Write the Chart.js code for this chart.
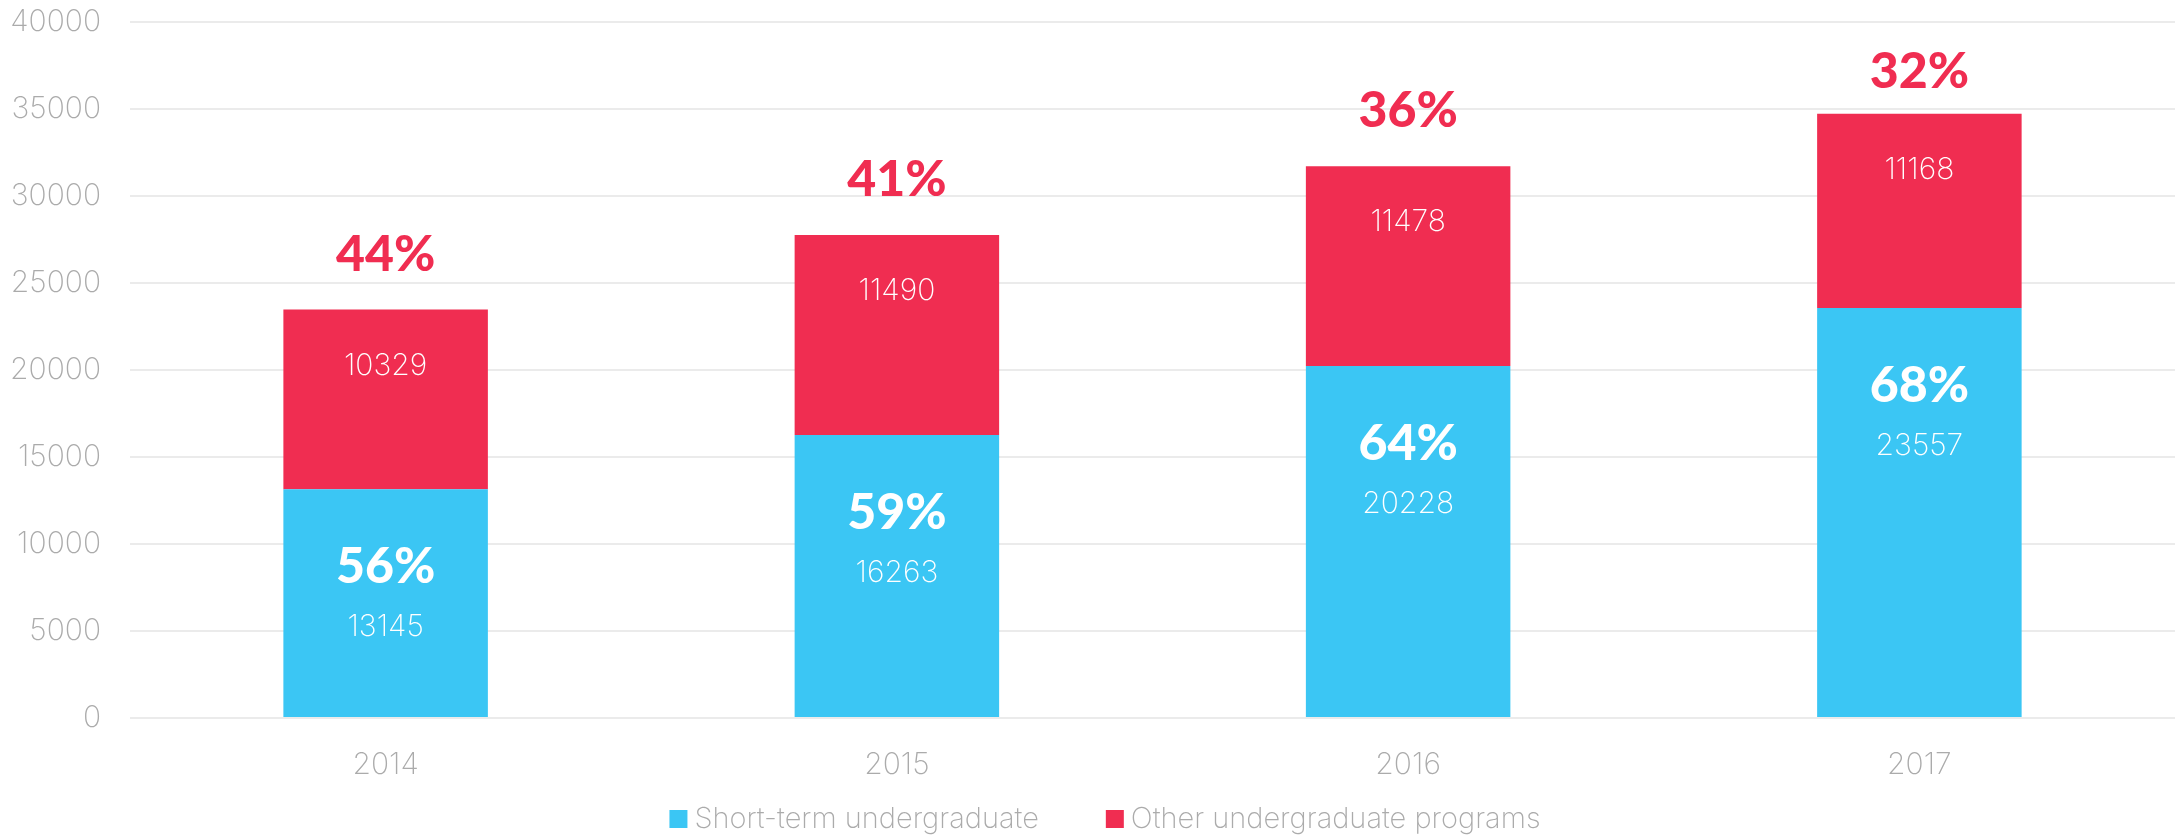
<!DOCTYPE html>
<html>
<head>
<meta charset="utf-8">
<script src="https://cdn.jsdelivr.net/npm/chart.js@4/dist/chart.umd.min.js"></script>
<style>
  html, body { margin: 0; padding: 0; background: #ffffff; }
  #wrap { width: 2176px; height: 835px; position: relative; }
</style>
</head>
<body>
<div id="wrap"><canvas id="c"></canvas></div>
<script>
const categories = ['2014', '2015', '2016', '2017'];
const shortTerm = [13145, 16263, 20228, 23557];
const otherPrograms = [10329, 11490, 11478, 11168];
const shortTermPct = ['56%', '59%', '64%', '68%'];
const otherPct = ['44%', '41%', '36%', '32%'];
const seriesNames = ['Short-term undergraduate', 'Other undergraduate programs'];
const yTicks = [0, 5000, 10000, 15000, 20000, 25000, 30000, 35000, 40000];

const BLUE = '#3bc6f4';
const RED = '#f02d51';
const GRAY = '#ababab';
const LIGHT = "'Inter', 'Roboto', 'Liberation Sans', sans-serif";
const BOLD = "'Lato', 'Roboto', sans-serif";

const labelPlugin = {
  id: 'barLabels',
  afterDatasetsDraw(chart) {
    const ctx = chart.ctx;
    const m0 = chart.getDatasetMeta(0);
    const m1 = chart.getDatasetMeta(1);
    ctx.save();
    ctx.textAlign = 'center';
    ctx.textBaseline = 'middle';
    categories.forEach((c, i) => {
      const b = m0.data[i];
      const r = m1.data[i];
      ctx.fillStyle = '#ffffff';
      ctx.font = '200 30px ' + LIGHT;
      ctx.fillText(String(otherPrograms[i]), r.x, r.y + 56);
      ctx.fillStyle = RED;
      ctx.font = '900 50px ' + BOLD;
      const py = Math.max(r.y - 55, chart.chartArea.top + 50);
      ctx.fillText(otherPct[i], r.x, py);
      ctx.fillStyle = '#ffffff';
      ctx.font = '900 50px ' + BOLD;
      ctx.fillText(shortTermPct[i], b.x, b.y + 78);
      ctx.font = '200 30px ' + LIGHT;
      ctx.fillText(String(shortTerm[i]), b.x, b.y + 138);
    });
    ctx.restore();
  }
};

const legendPlugin = {
  id: 'customLegend',
  afterDraw(chart) {
    const ctx = chart.ctx;
    ctx.save();
    ctx.font = '200 29px ' + LIGHT;
    ctx.textBaseline = 'middle';
    ctx.textAlign = 'left';
    const box = 18, gap = 7, between = 67;
    const items = chart.data.datasets.map(d => ({ label: d.label, color: d.backgroundColor }));
    let total = 0;
    items.forEach((it, k) => {
      it.w = box + gap + ctx.measureText(it.label).width;
      total += it.w + (k > 0 ? between : 0);
    });
    let x = chart.width / 2 - total / 2 + 17;
    const cy = 819;
    items.forEach(it => {
      ctx.fillStyle = it.color;
      ctx.fillRect(x, cy - box / 2, box, box);
      ctx.fillStyle = GRAY;
      ctx.fillText(it.label, x + box + gap, cy);
      x += it.w + between;
    });
    ctx.restore();
  }
};

new Chart(document.getElementById('c'), {
  type: 'bar',
  data: {
    labels: categories,
    datasets: [
      { label: seriesNames[0], data: shortTerm, backgroundColor: BLUE, borderWidth: 0,
        categoryPercentage: 0.8, barPercentage: 0.5 },
      { label: seriesNames[1], data: otherPrograms, backgroundColor: RED, borderWidth: 0,
        categoryPercentage: 0.8, barPercentage: 0.5 }
    ]
  },
  options: {
    responsive: true,
    maintainAspectRatio: false,
    animation: false,
    layout: { padding: { top: 22, right: 1, bottom: 57, left: 0 } },
    plugins: {
      legend: { display: false },
      tooltip: { enabled: false },
      title: { display: false }
    },
    scales: {
      x: {
        stacked: true,
        grid: { display: false },
        border: { display: false },
        ticks: { color: GRAY, padding: 21, font: { family: LIGHT, size: 30, weight: '200' } },
        afterFit(scale) { scale.height = 60; scale.paddingLeft = 0; scale.paddingRight = 0; }
      },
      y: {
        stacked: true,
        min: 0,
        max: 40000,
        afterBuildTicks(scale) { scale.ticks = yTicks.map(v => ({ value: v })); },
        grid: { color: '#ebebeb', lineWidth: 2, drawTicks: false },
        border: { display: false },
        ticks: { color: GRAY, padding: 29, font: { family: LIGHT, size: 30, weight: '200' },
                 callback: (v) => String(v) },
        afterFit(scale) { scale.width = 130; scale.paddingTop = 0; scale.paddingBottom = 0; }
      }
    }
  },
  plugins: [labelPlugin, legendPlugin]
});
</script>
</body>
</html>
